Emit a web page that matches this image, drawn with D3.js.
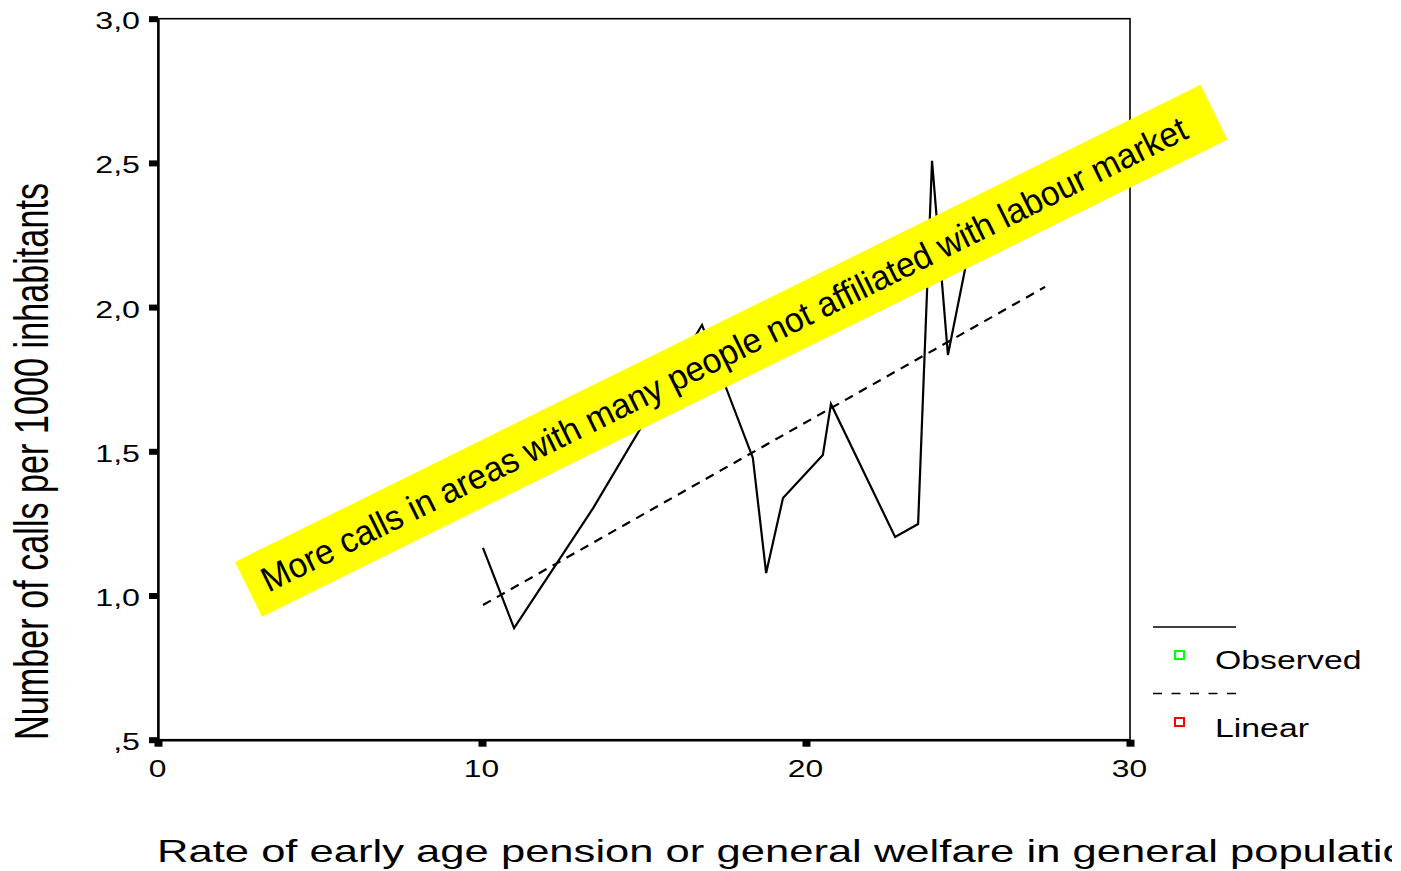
<!DOCTYPE html>
<html>
<head>
<meta charset="utf-8">
<script src="https://cdn.jsdelivr.net/npm/d3@7/dist/d3.min.js"></script>
<style>
  html, body { margin: 0; padding: 0; background: #fff; }
  svg { display: block; }
  text { font-family: "Liberation Sans", Arial, sans-serif; fill: #000; }
</style>
</head>
<body>
<svg id="chart" width="1401" height="871"></svg>
<script>
// ---- data ----
const obsX = [10.03, 10.99, 13.43, 16.79, 18.36, 18.77, 19.29, 20.52, 20.77, 22.75, 23.46, 23.89, 24.38, 25.12];
const obsY = [1.165, 0.887, 1.303, 1.938, 1.477, 1.078, 1.338, 1.487, 1.664, 1.203, 1.248, 2.507, 1.834, 2.25];
const linX = [10.03, 27.38];
const linY = [0.967, 2.070];
const xTicks = [0, 10, 20, 30];
const xTickLabels = ["0", "10", "20", "30"];
const yTicks = [0.5, 1.0, 1.5, 2.0, 2.5, 3.0];
const yTickLabels = [",5", "1,0", "1,5", "2,0", "2,5", "3,0"];
const legendLabels = ["Observed", "Linear"];
const xTitle = "Rate of early age pension or general welfare in general population";
const yTitle = "Number of calls per 1000 inhabitants";
const bannerText = "More calls in areas with many people not affiliated with labour market";

// ---- layout ----
const L = 158, R = 1130, T = 18.7, B = 739.7;
const svg = d3.select("#chart");
const x = d3.scaleLinear().domain([0, 30]).range([L, R]);
const y = d3.scaleLinear().domain([0.5, 3.0]).range([B, T]);

// frame
svg.append("rect").attr("x", L).attr("y", T).attr("width", R - L).attr("height", B - T)
  .attr("fill", "none").attr("stroke", "#000").attr("stroke-width", 1.6);

// y axis
const yAx = svg.append("g").attr("transform", `translate(${L},0)`)
  .call(d3.axisLeft(y).tickValues(yTicks).tickSize(0)
    .tickFormat((d, i) => yTickLabels[i]));
yAx.select(".domain").attr("stroke", "#000").attr("stroke-width", 2.4);
yAx.selectAll(".tick line").remove();
yAx.selectAll(".tick").append("rect")
  .attr("x", -9).attr("y", -3).attr("width", 9).attr("height", 6).attr("fill", "#000");
yAx.selectAll(".tick text")
  .attr("x", null).attr("dy", null).attr("y", null)
  .attr("text-anchor", "end")
  .attr("font-size", 23)
  .attr("font-family", "Liberation Sans, Arial, sans-serif")
  .attr("fill", "#000")
  .attr("transform", `translate(-18,10) scale(1.4,1)`);

// x axis
const xAx = svg.append("g").attr("transform", `translate(0,${B})`)
  .call(d3.axisBottom(x).tickValues(xTicks).tickSize(0)
    .tickFormat((d, i) => xTickLabels[i]));
xAx.select(".domain").attr("stroke", "#000").attr("stroke-width", 2.4);
xAx.selectAll(".tick line").remove();
xAx.selectAll(".tick").append("rect")
  .attr("x", -4).attr("y", 0).attr("width", 8).attr("height", 7).attr("fill", "#000");
xAx.selectAll(".tick text")
  .attr("x", null).attr("dy", null).attr("y", null)
  .attr("text-anchor", "middle")
  .attr("font-size", 23)
  .attr("font-family", "Liberation Sans, Arial, sans-serif")
  .attr("fill", "#000")
  .attr("transform", `translate(-1,37) scale(1.38,1)`);

// lines
const obs = obsX.map((v, i) => [v, obsY[i]]);
const lin = linX.map((v, i) => [v, linY[i]]);
const line = d3.line().x(d => x(d[0])).y(d => y(d[1]));
svg.append("path").datum(lin).attr("d", line)
  .attr("fill", "none").attr("stroke", "#000").attr("stroke-width", 2.2)
  .attr("stroke-dasharray", "9,7");
svg.append("path").datum(obs).attr("d", line)
  .attr("fill", "none").attr("stroke", "#000").attr("stroke-width", 2.2)
  .attr("stroke-linejoin", "miter");

// banner
const bx = (262 + 235 + 1201 + 1227) / 4, by = (616 + 560 + 85 + 142) / 4;
const bg = svg.append("g").attr("transform", `translate(${bx},${by}) rotate(-26.3)`);
bg.append("rect").attr("x", -538.5).attr("y", -30.5).attr("width", 1077).attr("height", 61)
  .attr("fill", "#ffff00");
bg.append("text").attr("x", -8).attr("y", 12)
  .attr("text-anchor", "middle")
  .attr("font-family", "Lato, Open Sans, sans-serif")
  .attr("font-size", 35)
  .attr("textLength", 1028).attr("lengthAdjust", "spacingAndGlyphs")
  .text(bannerText);

// legend
const lg = svg.append("g");
lg.append("line").attr("x1", 1153).attr("x2", 1236).attr("y1", 627).attr("y2", 627)
  .attr("stroke", "#000").attr("stroke-width", 1.6);
lg.append("line").attr("x1", 1153).attr("x2", 1236).attr("y1", 693.5).attr("y2", 693.5)
  .attr("stroke", "#000").attr("stroke-width", 1.6).attr("stroke-dasharray", "9,9.5");
lg.append("rect").attr("x", 1175).attr("y", 651).attr("width", 9).attr("height", 8)
  .attr("fill", "none").attr("stroke", "#00ff00").attr("stroke-width", 2);
lg.append("rect").attr("x", 1175).attr("y", 718).attr("width", 9).attr("height", 8)
  .attr("fill", "none").attr("stroke", "#ff0000").attr("stroke-width", 2);
lg.selectAll("text.lab").data(legendLabels).join("text").attr("class", "lab")
  .attr("font-size", 26)
  .attr("transform", (d, i) => `translate(1215,${669 + i * 68}) scale(1.3,1)`)
  .text(d => d);

// y title
svg.append("text")
  .attr("transform", `translate(48,461.5) scale(1.4,1) rotate(-90)`)
  .attr("text-anchor", "middle")
  .attr("font-size", 34.2)
  .attr("textLength", 557).attr("lengthAdjust", "spacingAndGlyphs")
  .text(yTitle);

// x title (clipped at right like the reference)
svg.append("defs").append("clipPath").attr("id", "xclip")
  .append("rect").attr("x", 0).attr("y", 780).attr("width", 1392).attr("height", 91);
const prefix = "Rate of early age pension or general welfare in general populati";
const tmp = svg.append("text").attr("font-size", 32).text(prefix);
const w1 = tmp.node().getComputedTextLength();
tmp.remove();
const sxT = 1226 / w1;
svg.append("g").attr("clip-path", "url(#xclip)")
  .append("text")
  .attr("transform", `translate(157,862) scale(${sxT},1)`)
  .attr("font-size", 32)
  .text(xTitle);
</script>
</body>
</html>
